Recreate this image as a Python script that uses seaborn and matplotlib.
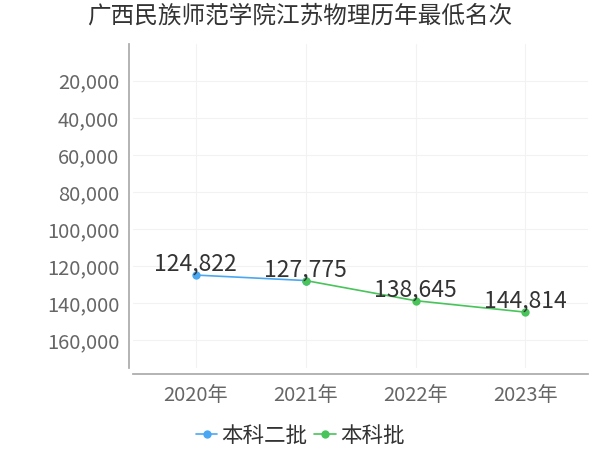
import matplotlib
matplotlib.use('Agg')
import matplotlib.pyplot as plt
import matplotlib.ticker as mticker
import seaborn as sns
import pandas as pd

years = ['2020年', '2021年', '2022年', '2023年']
erpi_years = ['2020年', '2021年']
erpi_rank = [124822, 127775]
benke_years = ['2021年', '2022年', '2023年']
benke_rank = [127775, 138645, 144814]
label_values = [124822, 127775, 138645, 144814]
y_ticks = [20000, 40000, 60000, 80000, 100000, 120000, 140000, 160000]

sns.set_theme(style='white')
plt.rcParams['font.family'] = ['Noto Sans CJK SC', 'DejaVu Sans']

df = pd.concat([
    pd.DataFrame({'year': erpi_years, 'rank': erpi_rank, 'batch': '本科二批'}),
    pd.DataFrame({'year': benke_years, 'rank': benke_rank, 'batch': '本科批'}),
])
df['x'] = df['year'].map({y: i for i, y in enumerate(years)})

fig = plt.figure(figsize=(6, 4.5), dpi=100)
ax = fig.add_axes([0.222, 0.182, 0.758, 0.721])

sns.lineplot(data=df, x='x', y='rank', hue='batch', marker='o', markersize=6,
             markeredgewidth=0, linewidth=1.2, ax=ax,
             palette={'本科二批': '#4aa8f2', '本科批': '#48c45a'})

for i, v in enumerate(label_values):
    ax.text(i, v - 2300, f'{v:,}', ha='center', va='baseline', fontsize=16.5, color='#333333')

ax.set_xlim(-0.57, 3.57)
ax.set_ylim(175000, 0)
ax.set_xticks(range(len(years)))
ax.set_xticklabels(years)
ax.set_yticks(y_ticks)
ax.yaxis.set_major_formatter(mticker.FuncFormatter(lambda v, p: f'{int(v):,}'))
ax.tick_params(axis='both', labelsize=14.5, colors='#666666', length=4, color='#aaaaaa')
ax.tick_params(axis='x', pad=4)
ax.tick_params(axis='y', pad=3)
ax.set_xlabel('')
ax.set_ylabel('')

ax.grid(True, color='#f2f2f2', linewidth=0.8)
ax.set_axisbelow(True)
for s in ['top', 'right']:
    ax.spines[s].set_visible(False)
ax.spines['left'].set_position(('outward', 3))
ax.spines['bottom'].set_position(('outward', 4))
ax.spines['left'].set_color('#aaaaaa')
ax.spines['bottom'].set_color('#aaaaaa')

ax.legend(loc='upper center', bbox_to_anchor=(0.367, -0.115), ncol=2, frameon=False,
          fontsize=15.5, handlelength=1.0, handletextpad=0.2, columnspacing=0.3,
          labelcolor='#333333')

fig.suptitle('广西民族师范学院江苏物理历年最低名次', x=0.5, y=0.99, fontsize=17, color='#333333')

plt.savefig('out.png', dpi=100)
plt.close()
